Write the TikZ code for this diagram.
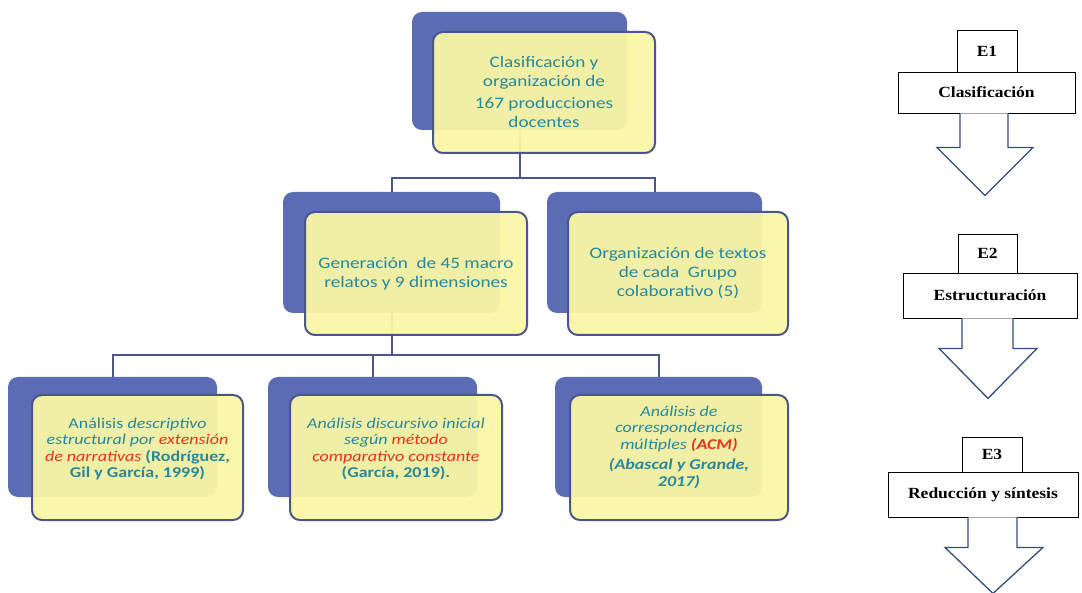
\documentclass[tikz,border=0pt]{standalone}
\usepackage{fontspec}
\setmainfont{Carlito}[FakeStretch=1.2]
\newfontfamily\tnr{Liberation Serif}[FakeStretch=1.13]
\usetikzlibrary{calc}
\definecolor{backblue}{RGB}{91,108,180}
\definecolor{frontyellow}{RGB}{251,247,165}
\definecolor{edgeblue}{RGB}{72,86,140}
\definecolor{tealtxt}{RGB}{40,136,156}
\definecolor{redtxt}{RGB}{228,52,28}
\definecolor{arrowblue}{RGB}{52,78,132}
\begin{document}
\begin{tikzpicture}[x=1pt,y=-1pt,
  backbox/.style={fill=backblue, rounded corners=10pt, inner sep=0pt},
  frontbox/.style={fill=frontyellow, fill opacity=0.94, text opacity=1, draw=edgeblue, line width=2pt,
     rounded corners=10pt, inner sep=0pt, align=center, text=tealtxt},
  bigtxt/.style={font=\fontsize{16}{19}\selectfont},
  smalltxt/.style={font=\fontsize{15}{16.5}\selectfont},
  conn/.style={draw=edgeblue, line width=2pt},
  stagebox/.style={draw=black, line width=0.9pt, fill=white, inner sep=0pt, font=\tnr\bfseries\fontsize{15.5}{18}\selectfont},
  blockarrow/.style={draw=arrowblue, line width=1.3pt, fill=white, line join=miter}
]
\useasboundingbox (0,0) rectangle (1082,593);

% back boxes
\node[backbox, minimum width=215, minimum height=118] (tb) at (519.5,71) {};
\node[backbox, minimum width=217, minimum height=121] (gb) at (391.5,252.5) {};
\node[backbox, minimum width=215, minimum height=121] (ob) at (654.5,252.5) {};
\node[backbox, minimum width=209, minimum height=120] (ab) at (112.5,437) {};
\node[backbox, minimum width=209, minimum height=120] (bb) at (372.5,437) {};
\node[backbox, minimum width=207, minimum height=120] (cb) at (658.5,437) {};

% connectors
\coordinate (j1) at ($(tb.south)+(0,48)$);
\draw[conn] (tb.south) -- (j1);
\draw[conn] (j1) -| (gb.north);
\draw[conn] (j1) -| (ob.north);
\coordinate (j2) at ($(gb.south)+(0,42)$);
\draw[conn] (gb.south) -- (j2);
\draw[conn] (j2) -| (ab.north);
\draw[conn] (j2) -| (bb.north);
\draw[conn] (j2) -| (cb.north);

% front boxes
\node[frontbox, bigtxt, minimum width=222, minimum height=121] (t) at (544,92.5)
  {Clasificación y\\organización de\\[3pt]167 producciones\\docentes};
\node[frontbox, bigtxt, minimum width=222, minimum height=123] (g) at (416,273.5)
  {Generación~ de 45 macro\\relatos y 9 dimensiones};
\node[frontbox, bigtxt, minimum width=220, minimum height=123] (o) at (678,273.5)
  {Organización de textos\\de cada~ Grupo\\colaborativo (5)};
\node[frontbox, smalltxt, minimum width=211, minimum height=125] (a) at (137.5,457.5)
  {Análisis \textit{descriptivo}\\\textit{estructural por} \textcolor{redtxt}{\textit{extensión}}\\\textcolor{redtxt}{\textit{de narrativas}} \textbf{(Rodríguez,}\\\textbf{Gil y García, 1999)}\\[3pt]};
\node[frontbox, smalltxt, minimum width=212, minimum height=125] (b) at (396,457.5)
  {\textit{Análisis discursivo inicial}\\\textit{según} \textcolor{redtxt}{\textit{método}}\\\textcolor{redtxt}{\textit{comparativo constante}}\\\textbf{(García, 2019).}\\[3pt]};
\node[frontbox, smalltxt, minimum width=218, minimum height=125] (c) at (679,457.5)
  {\textit{Análisis de}\\\textit{correspondencias}\\\textit{múltiples} \textcolor{redtxt}{\textbf{\textit{(ACM)}}}\\[4pt]\textbf{\textit{(Abascal y Grande,}}\\\textbf{\textit{2017)}}\\[6pt]};

% stages
\node[stagebox, minimum width=60, minimum height=42] (e1) at (987,51) {E1};
\node[stagebox, minimum width=177, minimum height=41] (s1) at (986.5,92.5) {Clasificación};
\draw[blockarrow] ($(s1.south)+(-26.5,0)$) -- ++(0,34) -- ++(-23,0) -- ($(s1.south)+(-1.5,82)$)
   -- ($(s1.south)+(46.5,34)$) -- ++(-25,0) -- ($(s1.south)+(21.5,0)$);

\node[stagebox, minimum width=59, minimum height=39] (e2) at (987.5,253.5) {E2};
\node[stagebox, minimum width=174, minimum height=45] (s2) at (990,295.5) {Estructuración};
\draw[blockarrow] ($(s2.south)+(-28,0)$) -- ++(0,30) -- ++(-23,0) -- ($(s2.south)+(-2,80)$)
   -- ($(s2.south)+(47,30)$) -- ++(-24,0) -- ($(s2.south)+(23,0)$);

\node[stagebox, minimum width=60, minimum height=35] (e3) at (992,454.5) {E3};
\node[stagebox, minimum width=190, minimum height=45] (s3) at (983,494.5) {Reducción y síntesis};
\draw[blockarrow] ($(s3.south)+(-15,0)$) -- ++(0,30) -- ++(-23,0) -- ($(s3.south)+(10,76)$)
   -- ($(s3.south)+(60,30)$) -- ++(-26,0) -- ($(s3.south)+(34,0)$);
\end{tikzpicture}
\end{document}
